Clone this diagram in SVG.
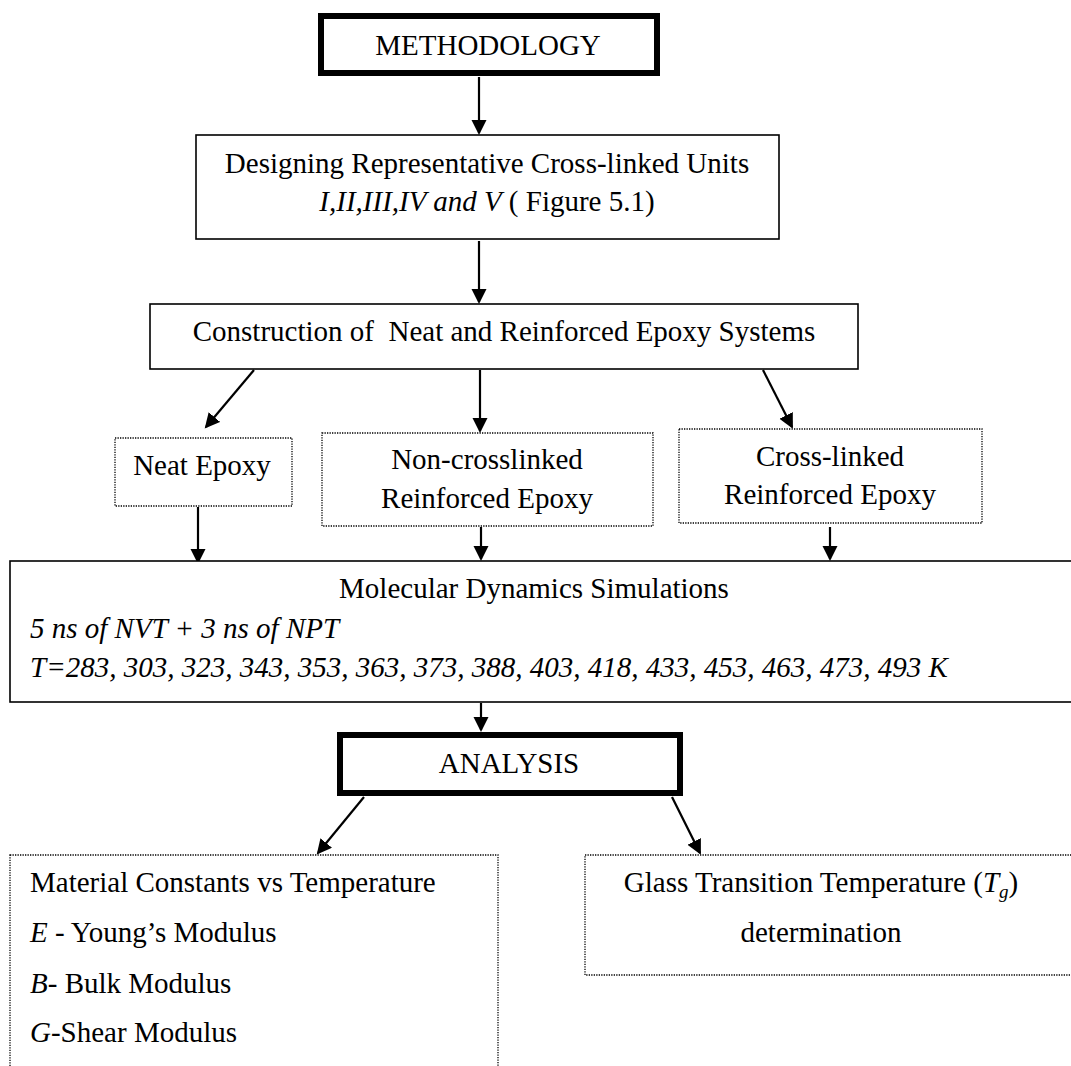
<svg xmlns="http://www.w3.org/2000/svg" width="1071" height="1066" viewBox="0 0 1071 1066">
<style>
text{font-family:"Liberation Serif","Times New Roman",serif;font-size:29px;fill:#000}
.c{text-anchor:middle}
.i{font-style:italic}
.thick{fill:#fff;stroke:#000;stroke-width:6}
.solid{fill:#fff;stroke:#000;stroke-width:1.6}
.dot{fill:#fff;stroke:#000;stroke-width:1.3;stroke-dasharray:1.3 1.2}
.edge{stroke:#000;stroke-width:2.2;fill:none;marker-end:url(#ah)}
</style>
<defs>
<marker id="ah" markerUnits="userSpaceOnUse" markerWidth="16" markerHeight="16" refX="13" refY="7.5" orient="auto">
<path d="M0,0 L15,7.5 L0,15 Z" fill="#000"/>
</marker>
</defs>
<rect width="1071" height="1066" fill="#fff"/>
<g id="connectors">
<line class="edge" x1="479" y1="77" x2="479" y2="133"/>
<line class="edge" x1="479" y1="241" x2="479" y2="302"/>
<line class="edge" x1="254" y1="370" x2="206" y2="427"/>
<line class="edge" x1="480" y1="370" x2="480" y2="431"/>
<line class="edge" x1="763" y1="370" x2="792" y2="427"/>
<line class="edge" x1="198" y1="507" x2="198" y2="562"/>
<line class="edge" x1="481" y1="527" x2="481" y2="559"/>
<line class="edge" x1="830" y1="527" x2="830" y2="559"/>
<line class="edge" x1="481" y1="703" x2="481" y2="730"/>
<line class="edge" x1="364" y1="797" x2="318" y2="853"/>
<line class="edge" x1="672" y1="797" x2="700" y2="853"/>
</g>
<g id="methodology">
<rect class="thick" x="321" y="16" width="336" height="57"/>
<text class="c" x="488" y="55">METHODOLOGY</text>
</g>
<g id="designing">
<rect class="solid" x="196" y="135" width="583" height="104"/>
<text class="c" x="487" y="173">Designing Representative Cross-linked Units</text>
<text class="c" x="487" y="211"><tspan class="i">I,II,III,IV and V</tspan> ( Figure 5.1)</text>
</g>
<g id="construction">
<rect class="solid" x="150" y="304" width="708" height="65"/>
<text class="c" x="504" y="341" xml:space="preserve">Construction of  Neat and Reinforced Epoxy Systems</text>
</g>
<g id="neat">
<rect class="dot" x="115" y="438" width="177" height="68"/>
<text class="c" x="202" y="475">Neat Epoxy</text>
</g>
<g id="noncross">
<rect class="dot" x="322" y="433" width="331" height="93"/>
<text class="c" x="487" y="469">Non-crosslinked</text>
<text class="c" x="487" y="508">Reinforced Epoxy</text>
</g>
<g id="cross">
<rect class="dot" x="679" y="429" width="303" height="94"/>
<text class="c" x="830" y="466">Cross-linked</text>
<text class="c" x="830" y="504">Reinforced Epoxy</text>
</g>
<g id="md">
<rect class="solid" x="10" y="561" width="1080" height="141" stroke-width="2"/>
<text class="c" x="534" y="598">Molecular Dynamics Simulations</text>
<text class="i" x="30" y="638">5 ns of NVT + 3 ns of NPT</text>
<text class="i" x="30" y="677">T=283, 303, 323, 343, 353, 363, 373, 388, 403, 418, 433, 453, 463, 473, 493 K</text>
</g>
<g id="analysis">
<rect class="thick" x="340" y="735" width="340" height="58"/>
<text class="c" x="509" y="773">ANALYSIS</text>
</g>
<g id="material">
<rect class="dot" x="10" y="855" width="488" height="240"/>
<text x="30" y="892">Material Constants vs Temperature</text>
<text x="30" y="942"><tspan class="i">E</tspan> - Young’s Modulus</text>
<text x="30" y="993"><tspan class="i">B</tspan>- Bulk Modulus</text>
<text x="30" y="1042"><tspan class="i">G</tspan>-Shear Modulus</text>
</g>
<g id="glass">
<rect class="dot" x="585" y="855" width="520" height="120"/>
<text class="c" x="821" y="892">Glass Transition Temperature (<tspan class="i">T</tspan><tspan class="i" font-size="19" dy="6">g</tspan><tspan dy="-6">)</tspan></text>
<text class="c" x="821" y="942">determination</text>
</g>
</svg>
